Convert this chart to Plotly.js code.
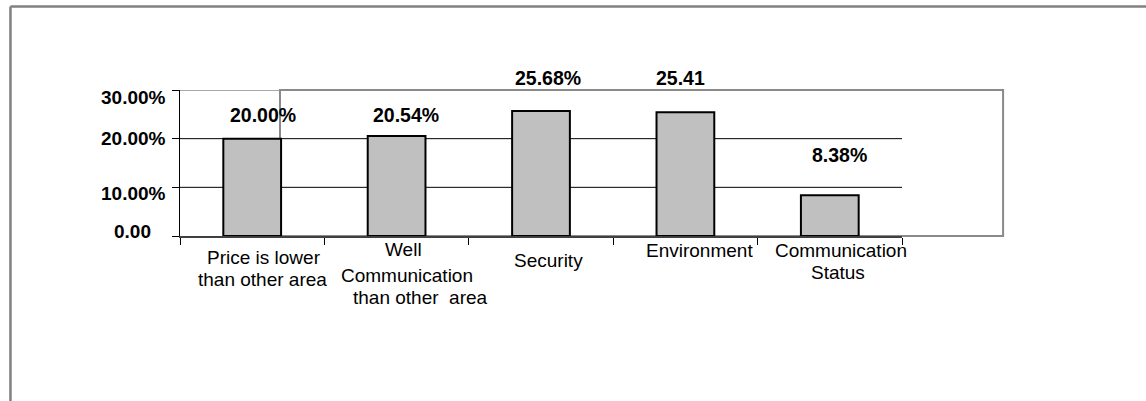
<!DOCTYPE html>
<html>
<head>
<meta charset="utf-8">
<script src="https://cdn.plot.ly/plotly-3.0.1.min.js"></script>
<style>
  html, body { margin: 0; padding: 0; background: #ffffff; }
  #chart { width: 1146px; height: 401px; }
</style>
</head>
<body>
<div id="chart"></div>
<script>
// ---- data ----
const categories = [
  "Price is lower<br>than other area",
  "Well<br>Communication<br>than other\u00a0 area",
  "Security",
  "Environment",
  "Communication<br>Status"
];
const values = [20.00, 20.54, 25.68, 25.41, 8.38];
const valueLabels = ["20.00%", "20.54%", "25.68%", "25.41", "8.38%"];
const yTickVals = [0, 10, 20, 30];
const yTickText = ["0.00", "10.00%", "20.00%", "30.00%"];

// ---- styles (pixel offsets only) ----
const FONT = "Liberation Sans, Arial, Helvetica, sans-serif";
const valueLabelShift = [[11, 24], [9, 21], [7, 33], [-5, 34], [10, 40]];
const catLineShift = [
  [[12, -21.5], [10, -43]],
  [[7, -13], [10, -39.5], [24, -61]],
  [[7, -24]],
  [[14, -14]],
  [[11, -14], [8, -36]]
];
const yTickShift = [[-28, 4.5], [-13, -6.5], [-13, 0], [-13, -7.5]];

const annotations = [];
// value labels
values.forEach((v, i) => {
  annotations.push({
    x: categories[i], y: v, xref: "x", yref: "y",
    text: valueLabels[i], showarrow: false,
    xanchor: "center", yanchor: "middle",
    xshift: valueLabelShift[i][0], yshift: valueLabelShift[i][1],
    borderpad: 0,
    font: { family: FONT, size: 19.5, color: "#000000", weight: "bold" }
  });
});
// category labels (line by line)
categories.forEach((c, i) => {
  c.split("<br>").forEach((line, j) => {
    annotations.push({
      x: categories[i], y: 0, xref: "x", yref: "y",
      text: line, showarrow: false,
      xanchor: "center", yanchor: "middle",
      xshift: catLineShift[i][j][0], yshift: catLineShift[i][j][1],
      borderpad: 0,
      font: { family: FONT, size: 19, color: "#000000" }
    });
  });
});
// y tick labels
yTickVals.forEach((v, i) => {
  annotations.push({
    x: 0, y: v, xref: "paper", yref: "y",
    text: yTickText[i], showarrow: false,
    xanchor: "right", yanchor: "middle",
    xshift: yTickShift[i][0], yshift: yTickShift[i][1],
    borderpad: 0,
    font: { family: FONT, size: 19, color: "#000000", weight: "bold" }
  });
});

const shapes = [];
// horizontal gridlines (inner ticks)
yTickVals.filter(v => v > 0 && v < 30).forEach(v => {
  shapes.push({ type: "line", xref: "paper", yref: "y", x0: 0, x1: 1, y0: v, y1: v,
    line: { color: "#000000", width: 1 }, layer: "below" });
});
// top gridline (gray, left part)
shapes.push({ type: "line", xref: "paper", yref: "y", x0: 0, x1: 0.1385, y0: 30, y1: 30,
  line: { color: "#8a8a8a", width: 1.5 }, layer: "below" });
// gray frame
shapes.push({ type: "rect", xref: "paper", yref: "paper", x0: 0.1385, x1: 1.14, y0: 0, y1: 1,
  line: { color: "#8a8a8a", width: 2 }, fillcolor: "rgba(0,0,0,0)", layer: "below" });
// outer border (top and left)
shapes.push({ type: "line", xref: "paper", yref: "paper", x0: -0.2348, x1: 1.4, y0: 1.572, y1: 1.572,
  line: { color: "#808080", width: 2.5 } });
shapes.push({ type: "line", xref: "paper", yref: "paper", x0: -0.2348, x1: -0.2348, y0: 1.572, y1: -1.3,
  line: { color: "#808080", width: 2.5 } });

const trace = {
  type: "bar",
  x: categories,
  y: values,
  width: 0.4,
  marker: { color: "#c0c0c0", line: { color: "#000000", width: 2 } },
  hoverinfo: "none"
};

const layout = {
  width: 1146, height: 401,
  margin: { l: 180, r: 244, t: 90, b: 165, pad: 0 },
  paper_bgcolor: "#ffffff", plot_bgcolor: "rgba(0,0,0,0)",
  showlegend: false,
  font: { family: FONT, color: "#000000" },
  xaxis: {
    type: "category", range: [-0.5, 4.5],
    showticklabels: false, ticks: "outside", tickson: "boundaries",
    ticklen: 7, tickwidth: 1, tickcolor: "#000000",
    showline: true, linecolor: "#404040", linewidth: 1.5,
    showgrid: false, zeroline: false, fixedrange: true
  },
  yaxis: {
    range: [0, 30], tickvals: yTickVals, showticklabels: false,
    ticks: "outside", ticklen: 7, tickwidth: 1, tickcolor: "#000000",
    showline: true, linecolor: "#000000", linewidth: 1,
    showgrid: false, zeroline: false, fixedrange: true
  },
  annotations: annotations,
  shapes: shapes
};

Plotly.newPlot("chart", [trace], layout, { displayModeBar: false, staticPlot: true });
</script>
</body>
</html>
